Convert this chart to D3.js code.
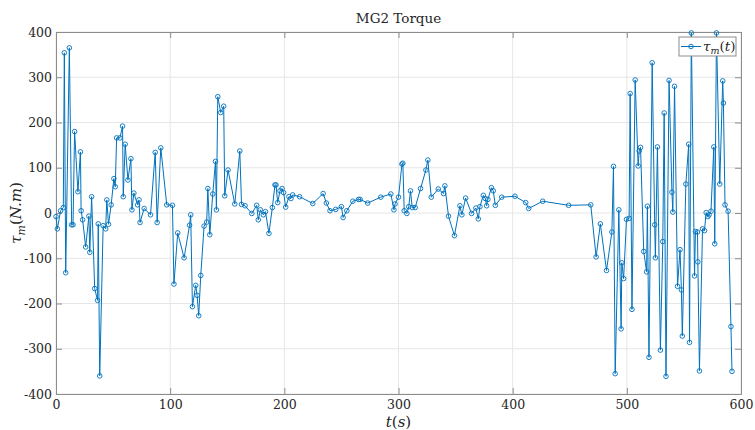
<!DOCTYPE html>
<html>
<head>
<meta charset="utf-8">
<script src="https://cdnjs.cloudflare.com/ajax/libs/d3/7.8.5/d3.min.js"></script>
<style>
  body { margin: 0; background: #fff; }
  svg text { font-family: 'DejaVu Serif', serif; fill: #262626; }
</style>
</head>
<body>
<svg id="chart" width="755" height="430"></svg>
<script>
// time samples (s) and MG2 torque (N.m)
var times = [0, 1.2, 4, 6.4, 7.3, 8.5, 11.7, 13.7, 14.9, 16.3, 19.2, 21.4, 22, 23.3, 26, 28.8, 29.6, 31.2, 33.9, 36.4,
  37, 38.3, 41.3, 43.5, 44.5, 46, 48.3, 50.7, 51.9, 53.1, 56, 58.3, 58.9, 60.6, 63, 65.6, 66.5, 68.2, 71.5, 72.7,
  73.6, 77.2, 82.8, 86.9, 88.6, 91.8, 97, 102, 103.3, 106.6, 112.2, 117, 118, 119.5, 122.4, 123.6, 125, 126.8, 129.7, 132,
  133, 134.7, 137.3, 139.7, 140.5, 141.7, 144.3, 146.9, 147.8, 150.7, 156.6, 161, 162.5, 165.6, 171.5, 175.8, 177.2, 179, 181.6, 183.5,
  186.5, 189.5, 191.8, 192.7, 194.2, 196.2, 198, 199.4, 201.2, 204, 205.8, 207.3, 213.4, 224.9, 234, 236.8, 240, 245, 250, 251.5,
  254.7, 260, 265, 266.4, 273, 284.5, 293.3, 296, 297, 300, 303, 303.8, 305, 307.3, 309, 310.5, 312, 314.6, 319.3, 324,
  325.7, 328.7, 334.8, 339.5, 340.6, 343.8, 349, 353.8, 355.5, 358.8, 364, 367.8, 369.9, 371.3, 374.3, 376, 377.2, 378.3, 381.4, 383,
  384.8, 390.4, 402, 411.4, 414, 426.3, 449, 468.4, 473.1, 476.8, 482.2, 486.9, 488.3, 489.8, 493, 495, 495.6, 497.2, 499.7, 502,
  502.9, 504.5, 507.3, 509.9, 510.8, 512, 514.8, 517.3, 518, 519.4, 522.2, 524.4, 525, 526.8, 529.4, 531.5, 532.7, 534.3, 537, 539.5,
  540.3, 541.8, 544.4, 546.6, 547.8, 548.6, 551.7, 554.2, 554.9, 556.5, 559.3, 560.1, 561.9, 562.2, 563.6, 566.3, 568, 569.5, 571, 572,
  573.7, 576.2, 577, 578.5, 581.4, 584, 584.6, 586, 588.7, 591.2, 592.1];
var torque = [-8, -35, 5, 12, 354, -132, 365, -26, -26, 180, 47, 135, 5, -15, -75, -7, -87, 36, -167, -193,
  -24, -360, -28, -35, 29, -25, 18, 76, 58, 166, 166, 192, 36, 152, 73, 120, 7, 44, 18, 29,
  -21, 10, -4, 134, -21, 144, 18, 17, -157, -44, -99, -27, -4, -207, -160, -182, -227, -138, -29, -20,
  54, -48, 42, 114, 7, 257, 222, 236, 38, 95, 20, 137, 19, 16, -1, 17, -15, 7, -4, 3,
  -45, 12, 62, 62, 23, 49, 54, 45, 13, 36, 32, 40, 36, 21, 43, 22, 5, 8, 14, -10,
  5, 26, 30, 30, 22, 35, 42, 7, 20, 35, 108, 110, 5, -1, 14, 49, 12, 12, 54, 95,
  117, 35, 53, 43, 60, -7, -50, 16, -4, 33, -1, 11, -13, 14, 39, 32, 16, 30, 56, 49,
  17, 35, 37, 23, 10, 26, 17, 18, -97, -24, -127, -42, 103, -355, 7, -256, -110, -145, -14, -12,
  264, -213, 294, 104, 137, 145, -85, -130, 15, -319, 332, -26, -99, 146, -303, -63, 221, -361, 293, 46,
  2, 280, -162, -81, -170, -272, 64, 152, -286, 398, -139, -41, -42, -108, -349, -35, -39, 1, -8, -4,
  4, 146, -68, 398, 64, 292, 243, 18, 4, -251, -350];
var xTicks = [0, 100, 200, 300, 400, 500, 600];
var yTicks = [-400, -300, -200, -100, 0, 100, 200, 300, 400];

var data = times.map(function (t, i) { return {t: t, v: torque[i]}; });

var margin = {top: 32, right: 14, bottom: 36, left: 56},
    width = 755 - margin.left - margin.right,
    height = 430 - margin.top - margin.bottom;

var svg = d3.select("#chart");
var g = svg.append("g")
    .attr("transform", "translate(" + margin.left + "," + margin.top + ")");

var x = d3.scaleLinear().domain([0, 600]).range([0, width]);
var y = d3.scaleLinear().domain([-400, 400]).range([height, 0]);
var blue = "#0072BD";
var serif = "'DejaVu Serif', serif";

// grid
g.append("g").selectAll("line").data(xTicks).enter().append("line")
    .attr("x1", function (d) { return x(d); }).attr("x2", function (d) { return x(d); })
    .attr("y1", 0).attr("y2", height)
    .attr("stroke", "#e6e6e6").attr("stroke-width", 1);
g.append("g").selectAll("line").data(yTicks).enter().append("line")
    .attr("y1", function (d) { return y(d); }).attr("y2", function (d) { return y(d); })
    .attr("x1", 0).attr("x2", width)
    .attr("stroke", "#e6e6e6").attr("stroke-width", 1);

// axes (ticks inside, box on all sides)
function styleAxis(sel) {
  sel.attr("font-family", serif);
  sel.select(".domain").attr("stroke", "#8c8c8c");
  sel.selectAll(".tick line").attr("stroke", "#8c8c8c");
  sel.selectAll("text").style("font-family", serif).style("font-size", "12.5px").attr("fill", "#262626");
}
g.append("g").attr("transform", "translate(0," + height + ")")
    .call(d3.axisBottom(x).tickValues(xTicks).tickSize(-6).tickPadding(6).tickSizeOuter(0))
    .call(styleAxis);
g.append("g")
    .call(d3.axisTop(x).tickValues(xTicks).tickSize(-6).tickFormat("").tickSizeOuter(0))
    .call(styleAxis);
g.append("g")
    .call(d3.axisLeft(y).tickValues(yTicks).tickSize(-6).tickPadding(4).tickSizeOuter(0)
      .tickFormat(function (d) { return String(d); }))
    .call(styleAxis);
g.append("g").attr("transform", "translate(" + width + ",0)")
    .call(d3.axisRight(y).tickValues(yTicks).tickSize(-6).tickFormat("").tickSizeOuter(0))
    .call(styleAxis);

// series
var line = d3.line().x(function (d) { return x(d.t); }).y(function (d) { return y(d.v); });
g.append("path").datum(data)
    .attr("fill", "none").attr("stroke", blue).attr("stroke-width", 1)
    .attr("d", line);
g.append("g").selectAll("circle").data(data).enter().append("circle")
    .attr("cx", function (d) { return x(d.t); })
    .attr("cy", function (d) { return y(d.v); })
    .attr("r", 2.3)
    .attr("fill", "none").attr("stroke", blue).attr("stroke-width", 0.9);

// title and labels
svg.append("text").attr("x", margin.left + width / 2).attr("y", 23)
    .attr("text-anchor", "middle").style("font-family", serif).style("font-size", "13.5px").text("MG2 Torque");
var xl = svg.append("text").attr("x", margin.left + width / 2).attr("y", 427)
    .attr("text-anchor", "middle").style("font-family", serif).style("font-size", "15px");
xl.append("tspan").style("font-style", "italic").text("t");
xl.append("tspan").text("(");
xl.append("tspan").style("font-style", "italic").text("s");
xl.append("tspan").text(")");

var yl = svg.append("text")
    .attr("transform", "translate(21," + (margin.top + height / 2) + ") rotate(-90)")
    .attr("text-anchor", "middle").style("font-family", serif).style("font-size", "15px");
yl.append("tspan").style("font-style", "italic").text("τ");
yl.append("tspan").style("font-style", "italic").style("font-size", "11px").attr("dy", 4).text("m");
yl.append("tspan").attr("dy", -4).text("(");
yl.append("tspan").style("font-style", "italic").text("N.m");
yl.append("tspan").text(")");

// legend
var lg = svg.append("g").attr("transform", "translate(679,37)");
lg.append("rect").attr("width", 57).attr("height", 19)
    .attr("fill", "#fff").attr("stroke", "#8c8c8c").attr("stroke-width", 1);
lg.append("line").attr("x1", 2).attr("x2", 22).attr("y1", 9.5).attr("y2", 9.5)
    .attr("stroke", blue).attr("stroke-width", 1);
lg.append("circle").attr("cx", 12).attr("cy", 9.5).attr("r", 2.3)
    .attr("fill", "none").attr("stroke", blue).attr("stroke-width", 0.9);
var lt = lg.append("text").attr("x", 24).attr("y", 14).style("font-family", serif).style("font-size", "13.5px");
lt.append("tspan").style("font-style", "italic").text("τ");
lt.append("tspan").style("font-style", "italic").style("font-size", "9.5px").attr("dy", 3).text("m");
lt.append("tspan").attr("dy", -3).text("(");
lt.append("tspan").style("font-style", "italic").text("t");
lt.append("tspan").text(")");
</script>
</body>
</html>
